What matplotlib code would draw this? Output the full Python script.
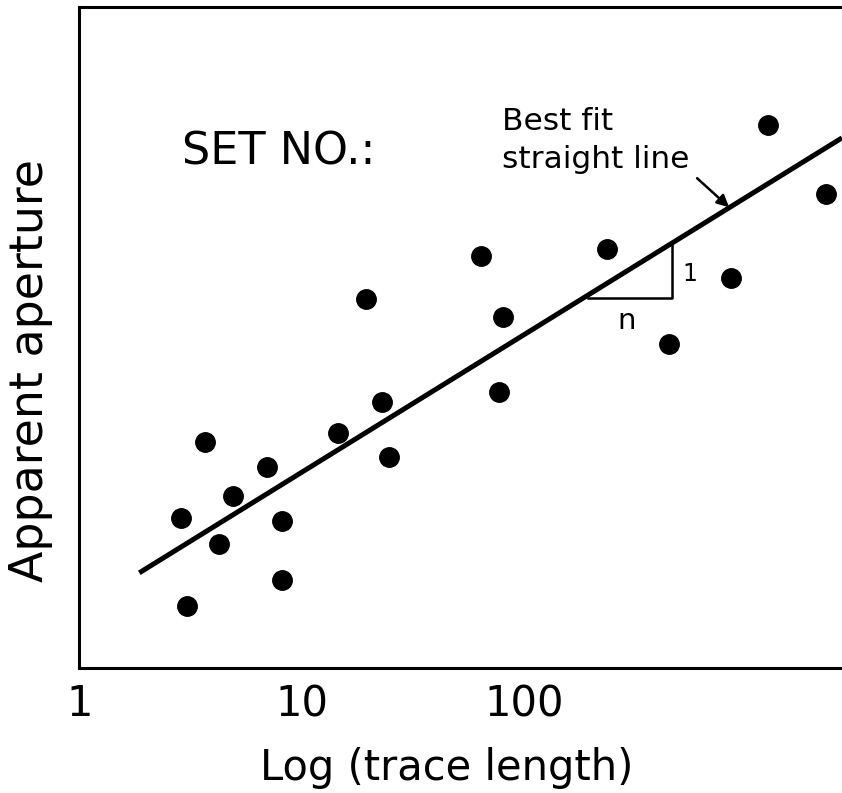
import numpy as np
import matplotlib.pyplot as plt

# scanned points
trace_length = [1257, 2291, 236.6, 64.0, 855, 19.4, 80.4, 450, 77.2, 22.9,
                14.5, 3.66, 24.6, 6.96, 4.89, 2.85, 8.13, 4.23, 8.13, 3.03]
aperture = [82.1, 71.7, 63.4, 62.3, 59.0, 55.8, 53.1, 49.0, 41.8, 40.2,
            35.6, 34.2, 31.9, 30.4, 26.0, 22.7, 22.2, 18.8, 13.3, 9.4]

fit_x = [1.85, 2700]
fit_y = [14.4, 80.2]

tri_x = [194, 464, 464]
tri_y = [56.0, 56.0, 64.3]

tick_vals = [1, 10, 100]
tick_labels = ['1', '10', '100']

plt.rcParams['font.family'] = 'DejaVu Sans'

fig = plt.figure(figsize=(8.42, 7.93), dpi=100)
ax = fig.add_axes([79/842, 1-668/793, 1-79/842, (668-7)/793])

ax.plot(trace_length, aperture, 'o', color='black', ms=14)
ax.plot(fit_x, fit_y, color='black', lw=3.6, solid_capstyle='butt')
ax.plot(tri_x, tri_y, color='black', lw=1.8)

ax.set_xscale('log')
ax.set_xlim(0.99, 2700)
ax.set_ylim(0, 100)

ax.set_xticks(tick_vals)
ax.set_xticklabels(tick_labels, fontsize=30)
ax.minorticks_off()
ax.tick_params(axis='x', length=0, pad=11)
ax.set_yticks([])

for s in ['left', 'bottom', 'top']:
    ax.spines[s].set_linewidth(2.2)
ax.spines['right'].set_visible(False)

ax.text(2.88, 76.1, 'SET NO.:', fontsize=32, va='baseline', ha='left')
ax.text(79.6, 81.4, 'Best fit', fontsize=22.5, va='baseline', ha='left')
ax.text(79.6, 75.6, 'straight line', fontsize=22.5, va='baseline', ha='left')
ax.text(515, 58.6, '1', fontsize=17, va='baseline', ha='left')
ax.text(290, 51.3, 'n', fontsize=21, va='baseline', ha='center')

ax.annotate('', xy=(838, 69.7), xytext=(601, 74.1),
            arrowprops=dict(arrowstyle='-|>', color='black', lw=1.8,
                            mutation_scale=18, shrinkA=0, shrinkB=0))

fig.text(447/842, 1-780/793, 'Log (trace length)', fontsize=30,
         ha='center', va='baseline')
fig.text(31/842, 1-370/793, 'Apparent aperture', fontsize=33,
         ha='center', va='center', rotation=90)

fig.savefig('out.png', dpi=100)
